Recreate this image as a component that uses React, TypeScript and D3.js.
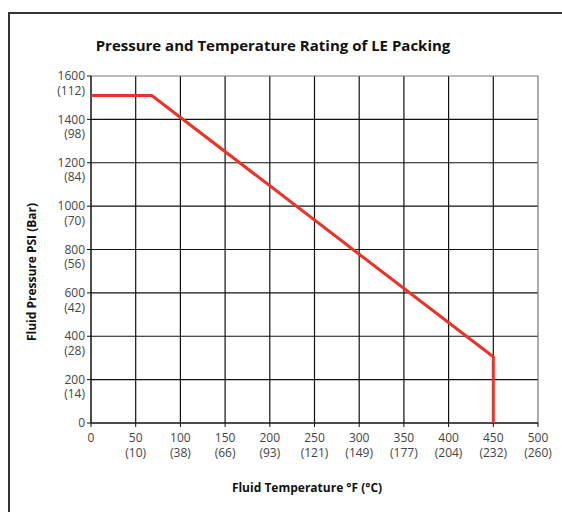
import React from "react";
import * as d3 from "d3";

const tempTicksF = [0, 50, 100, 150, 200, 250, 300, 350, 400, 450, 500];
const tempTicksC = ["", "(10)", "(38)", "(66)", "(93)", "(121)", "(149)", "(177)", "(204)", "(232)", "(260)"];
const pressureTicksPsi = [0, 200, 400, 600, 800, 1000, 1200, 1400, 1600];
const pressureTicksBar = ["", "(14)", "(28)", "(42)", "(56)", "(70)", "(84)", "(98)", "(112)"];

const ratingTempF = [0, 68, 450, 450];
const ratingPressurePsi = [1510, 1510, 305, 0];

const W = 562;
const H = 512;
const M = { left: 91, right: 538, top: 76, bottom: 423 };
const FONT = "'Open Sans', 'Noto Sans', sans-serif";

export default function App() {
  const x = d3.scaleLinear().domain([0, 500]).range([M.left, M.right]);
  const y = d3.scaleLinear().domain([0, 1600]).range([M.bottom, M.top]);
  const pts: [number, number][] = ratingTempF.map((t, i) => [t, ratingPressurePsi[i]]);
  const line = d3
    .line<[number, number]>()
    .x((d) => x(d[0]))
    .y((d) => y(d[1]));

  return (
    <svg
      width={W}
      height={H}
      style={{ position: "absolute", left: 0, top: 0, background: "#fff" }}
      fontFamily={FONT}
    >
      {/* outer frame */}
      <line x1={9} y1={13} x2={W} y2={13} stroke="#333" strokeWidth={2} />
      <line x1={9} y1={12} x2={9} y2={H} stroke="#333" strokeWidth={2} />

      <text x={273} y={51} textAnchor="middle" fontSize={15} fontWeight="bold" fill="#111">
        Pressure and Temperature Rating of LE Packing
      </text>

      {/* grid */}
      {pressureTicksPsi.slice(1, -1).map((p) => (
        <line key={"h" + p} x1={M.left} x2={M.right} y1={y(p)} y2={y(p)} stroke="#111" strokeWidth={1.2} />
      ))}
      {tempTicksF.slice(1, -1).map((t) => (
        <line key={"v" + t} x1={x(t)} x2={x(t)} y1={M.top} y2={M.bottom} stroke="#111" strokeWidth={1.2} />
      ))}
      <line x1={M.left} x2={M.right} y1={y(1600)} y2={y(1600)} stroke="#777" strokeWidth={1.2} />
      <line x1={x(500)} x2={x(500)} y1={M.top} y2={M.bottom} stroke="#777" strokeWidth={1.2} />

      {/* axes */}
      <line x1={M.left} x2={M.left} y1={M.top} y2={M.bottom} stroke="#111" strokeWidth={1.5} />
      <line x1={M.left} x2={M.right} y1={M.bottom} y2={M.bottom} stroke="#111" strokeWidth={1.5} />

      {/* y ticks */}
      {pressureTicksPsi.map((p, i) => (
        <g key={"yt" + p}>
          <line x1={M.left - 4} x2={M.left} y1={y(p)} y2={y(p)} stroke="#111" strokeWidth={1} />
          <text y={y(p)} textAnchor="end" fontSize={12} fill="#444">
            <tspan x={M.left - 6} dy="0.35em">{p}</tspan>
            {pressureTicksBar[i] && (
              <tspan x={M.left - 6} dy={14.5}>{pressureTicksBar[i]}</tspan>
            )}
          </text>
        </g>
      ))}

      {/* x ticks */}
      {tempTicksF.map((t, i) => (
        <g key={"xt" + t}>
          <line x1={x(t)} x2={x(t)} y1={M.bottom} y2={M.bottom + 4} stroke="#111" strokeWidth={1} />
          <text y={438} textAnchor="middle" fontSize={12} fill="#444">
            <tspan x={x(t)} dy="0.35em">{t}</tspan>
            {tempTicksC[i] && (
              <tspan x={x(t)} dy={15}>{tempTicksC[i]}</tspan>
            )}
          </text>
        </g>
      ))}

      {/* rating line */}
      <path d={line(pts) || ""} fill="none" stroke="#ee3124" strokeWidth={3} strokeLinejoin="miter" />

      <text x={307} y={488} dy="0.35em" textAnchor="middle" fontSize={12} fontWeight="bold" fill="#111">
        Fluid Temperature °F (°C)
      </text>
      <text
        transform="translate(32,272) rotate(-90)"
        dy="0.35em"
        textAnchor="middle"
        fontSize={12}
        fontWeight="bold"
        fill="#111"
      >
        Fluid Pressure PSI (Bar)
      </text>
    </svg>
  );
}
